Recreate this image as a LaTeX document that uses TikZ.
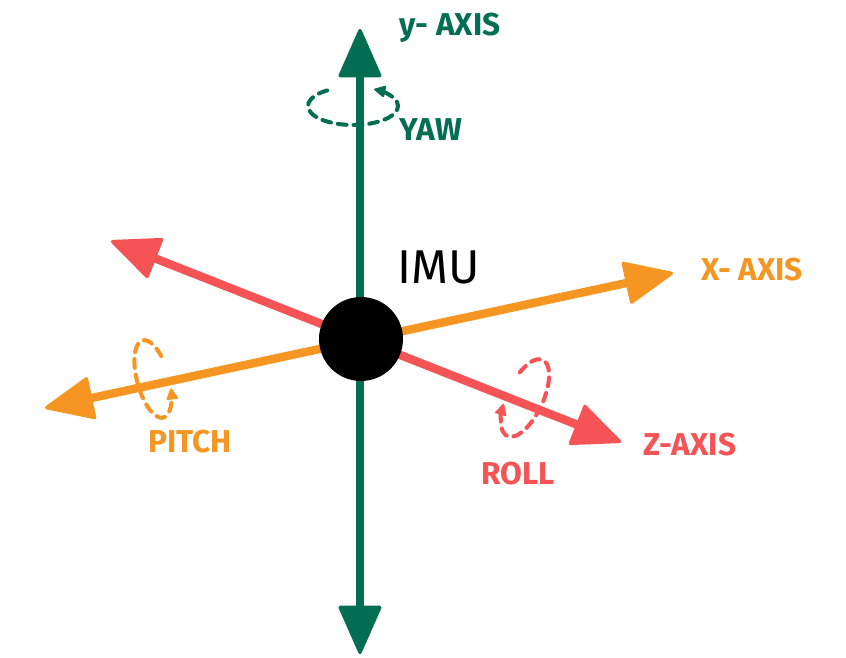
\documentclass[tikz,border=0pt]{standalone}
\usepackage{fontspec}
\setmainfont{Fira Sans}
\usetikzlibrary{arrows.meta}
\definecolor{axgreen}{RGB}{3,110,82}
\definecolor{axorange}{RGB}{246,150,34}
\definecolor{axred}{RGB}{245,83,85}
\begin{document}
\begin{tikzpicture}[x=0.02cm,y=0.02cm,
  bigtip/.tip={Triangle[length=29pt,width=25pt,round,line width=2pt]},
  axisline/.style={line width=4.8pt,{bigtip}-{bigtip}},
  rotarc/.style={line width=2.3pt,dash pattern=on 5pt off 4pt,line cap=round,-{Triangle[length=7pt,width=7pt,round,line width=1pt]}},
  lbl/.style={inner sep=0pt,font=\fontsize{18}{20}\selectfont\bfseries}]
\useasboundingbox (0,0) rectangle (846,-658);
% axis end points
\coordinate (ytop) at (360,-29);
\coordinate (ybot) at (360,-654);
\coordinate (xleft) at (45,-408);
\coordinate (xright) at (673,-273);
\coordinate (zleft) at (111,-241);
\coordinate (zright) at (621,-442);
% axes
\draw[axisline,axred] (zleft) -- (zright);
\draw[axisline,axorange] (xleft) -- (xright);
\draw[axisline,axgreen] (ytop) -- (ybot);
% rotation arcs
\begin{scope}[shift={(353,-106)}]
  \draw[rotarc,axgreen] (125:45 and 19) arc[start angle=125,end angle=422,x radius=45,y radius=19];
\end{scope}
\begin{scope}[shift={(153,-379)},rotate=15]
  \draw[rotarc,axorange] (30:16 and 40) arc[start angle=30,end angle=340,x radius=16,y radius=40];
\end{scope}
\begin{scope}[shift={(525,-398)},rotate=-25]
  \draw[rotarc,axred] (150:18 and 42) arc[start angle=150,end angle=-160,x radius=18,y radius=42];
\end{scope}
% centre
\node[circle,fill=black,inner sep=0pt,minimum size=1.68cm] (imu) at (361,-339) {};
% labels
\node[lbl,text=axgreen] (ylbl) at (450,-28) {y- AXIS};
\node[lbl,text=axgreen] (yawlbl) at (431,-130) {YAW};
\node[inner sep=0pt,font=\fontsize{27}{30}\selectfont] (imulbl) at (439,-267) {IMU};
\node[lbl,text=axorange] (xlbl) at (752,-270) {X- AXIS};
\node[lbl,text=axorange] (pitchlbl) at (190,-442) {PITCH};
\node[lbl,text=axred] (rolllbl) at (518,-474) {ROLL};
\node[lbl,text=axred] (zlbl) at (690,-445) {Z-AXIS};
\end{tikzpicture}
\end{document}
